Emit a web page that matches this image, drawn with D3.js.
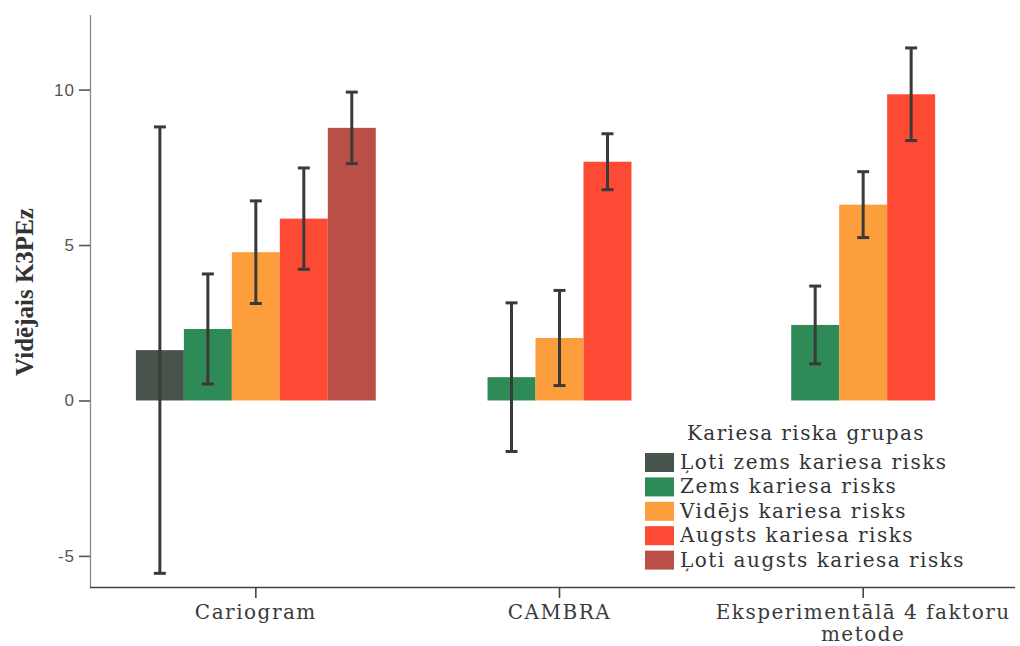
<!DOCTYPE html>
<html>
<head>
<meta charset="utf-8">
<script src="https://cdn.jsdelivr.net/npm/d3@7/dist/d3.min.js"></script>
<style>
  html, body { margin: 0; padding: 0; background: #fff; }
  svg { display: block; }
</style>
</head>
<body>
<svg id="chart" width="1020" height="646"></svg>
<script>
// Categories (risk assessment methods) and risk groups
const categories = ["Cariogram", "CAMBRA", "Eksperimentālā 4 faktoru metode"];
const groups = [
  "Ļoti zems kariesa risks",
  "Zems kariesa risks",
  "Vidējs kariesa risks",
  "Augsts kariesa risks",
  "Ļoti augsts kariesa risks"
];
const groupColors = ["#46544c", "#2e8a56", "#fd9e3d", "#fd4a35", "#b94f47"];

// Mean K3PEz per method (null = no cases in that group)
const meanVeryLow  = [1.62, null, null];
const meanLow      = [2.30, 0.75, 2.43];
const meanMedium   = [4.77, 2.01, 6.30];
const meanHigh     = [5.85, 7.68, 9.85];
const meanVeryHigh = [8.77, null, null];

// Half-width of the error bars
const errVeryLow  = [7.18, null, null];
const errLow      = [1.77, 2.39, 1.25];
const errMedium   = [1.65, 1.53, 1.06];
const errHigh     = [1.63, 0.90, 1.49];
const errVeryHigh = [1.15, null, null];

const yTicks = [-5, 0, 5, 10];

const meansByGroup = [meanVeryLow, meanLow, meanMedium, meanHigh, meanVeryHigh];
const errsByGroup  = [errVeryLow, errLow, errMedium, errHigh, errVeryHigh];

const svg = d3.select("#chart");
const plot = { left: 90, right: 1015, top: 15, bottom: 587 };
const serif = "DejaVu Serif, serif";

const x0 = d3.scaleBand().domain(categories).range([104, 1015]).padding(0);
const barW = x0.bandwidth() * 0.79 / groups.length;

const y = d3.scaleLinear().domain([-6.0, 12.4]).range([plot.bottom, plot.top]);

// Rows: one per bar that has data, positioned within its cluster
const rows = [];
categories.forEach((cat, ci) => {
  const present = groups.map((g, gi) => gi).filter(gi => meansByGroup[gi][ci] !== null);
  const cx = x0(cat) + x0.bandwidth() / 2;
  const x1 = d3.scaleBand()
    .domain(present)
    .range([cx - present.length * barW / 2, cx + present.length * barW / 2]);
  present.forEach(gi => {
    rows.push({
      cat, gi,
      x: x1(gi), w: x1.bandwidth(),
      mean: meansByGroup[gi][ci],
      err: errsByGroup[gi][ci]
    });
  });
});

// Bars
svg.append("g").selectAll("rect")
  .data(rows)
  .join("rect")
  .attr("x", d => d.x)
  .attr("width", d => d.w)
  .attr("y", d => y(Math.max(0, d.mean)))
  .attr("height", d => Math.abs(y(d.mean) - y(0)))
  .attr("fill", d => groupColors[d.gi]);

// Error bars
const eb = svg.append("g").attr("stroke", "#3a3a3a").attr("stroke-width", 3).attr("fill", "none");
const capW = 12;
rows.forEach(d => {
  const cx = d.x + d.w / 2;
  const top = y(d.mean + d.err), bot = y(d.mean - d.err);
  eb.append("line").attr("x1", cx).attr("x2", cx).attr("y1", top).attr("y2", bot);
  eb.append("line").attr("x1", cx - capW / 2).attr("x2", cx + capW / 2).attr("y1", top).attr("y2", top);
  eb.append("line").attr("x1", cx - capW / 2).attr("x2", cx + capW / 2).attr("y1", bot).attr("y2", bot);
});

// Y axis
const yAxis = svg.append("g")
  .attr("transform", `translate(${plot.left},0)`)
  .call(d3.axisLeft(y).tickValues(yTicks).tickSize(11).tickSizeOuter(0).tickFormat(d => String(d)));
yAxis.select(".domain").attr("stroke", "#8a8a8a").attr("stroke-width", 1.3)
  .attr("d", `M0.5,${plot.top}V${plot.bottom}`);
yAxis.selectAll(".tick line").attr("stroke", "#555").attr("stroke-width", 1.6);
yAxis.selectAll(".tick text")
  .attr("font-family", "Liberation Sans, Arial, sans-serif")
  .attr("font-size", 17)
  .attr("letter-spacing", "1px")
  .attr("fill", "#555")
  .attr("x", -15);

// X axis
const xAxis = svg.append("g")
  .attr("transform", `translate(0,${plot.bottom})`)
  .call(d3.axisBottom(x0).tickSize(11).tickSizeOuter(0));
xAxis.select(".domain").attr("stroke", "#444").attr("stroke-width", 1.4)
  .attr("d", `M${plot.left},0.5H${plot.right}`);
xAxis.selectAll(".tick line").attr("stroke", "#444").attr("stroke-width", 1.6);
xAxis.selectAll(".tick text")
  .attr("font-family", serif)
  .attr("font-size", 20)
  .attr("letter-spacing", "1.5px")
  .attr("fill", "#3a3a3a")
  .attr("y", 18)
  .call(wrap, 310);

function wrap(sel, width) {
  sel.each(function () {
    const text = d3.select(this);
    const words = text.text().split(/\s+/);
    const yy = text.attr("y");
    text.text(null);
    let line = [];
    let tspan = text.append("tspan").attr("x", 0).attr("y", yy).attr("dy", "0.71em");
    let lineNo = 0;
    words.forEach(w => {
      line.push(w);
      tspan.text(line.join(" "));
      if (tspan.node().getComputedTextLength() > width && line.length > 1) {
        line.pop();
        tspan.text(line.join(" "));
        line = [w];
        lineNo++;
        tspan = text.append("tspan").attr("x", 0).attr("y", yy)
          .attr("dy", (0.71 + lineNo * 1.1) + "em").text(w);
      }
    });
  });
}

// Y axis title
svg.append("text")
  .attr("transform", "translate(33,292) rotate(-90)")
  .attr("text-anchor", "middle")
  .attr("font-family", "Liberation Serif, Times New Roman, serif")
  .attr("font-weight", "bold")
  .attr("font-size", 25)
  .attr("fill", "#333")
  .text("Vidējais K3PEz");

// Legend
const legend = svg.append("g").attr("font-family", serif).attr("fill", "#333");
legend.append("text")
  .attr("x", 806).attr("y", 440)
  .attr("text-anchor", "middle")
  .attr("font-size", 20)
  .attr("letter-spacing", "1.4px")
  .text("Kariesa riska grupas");
const item = legend.selectAll("g.item")
  .data(groups)
  .join("g")
  .attr("class", "item")
  .attr("transform", (d, i) => `translate(645,${453 + i * 24.4})`);
item.append("rect")
  .attr("width", 29).attr("height", 19)
  .attr("fill", (d, i) => groupColors[i]);
item.append("text")
  .attr("x", 35).attr("y", 16)
  .attr("font-size", 20)
  .attr("letter-spacing", "1.5px")
  .text(d => d);
</script>
</body>
</html>
